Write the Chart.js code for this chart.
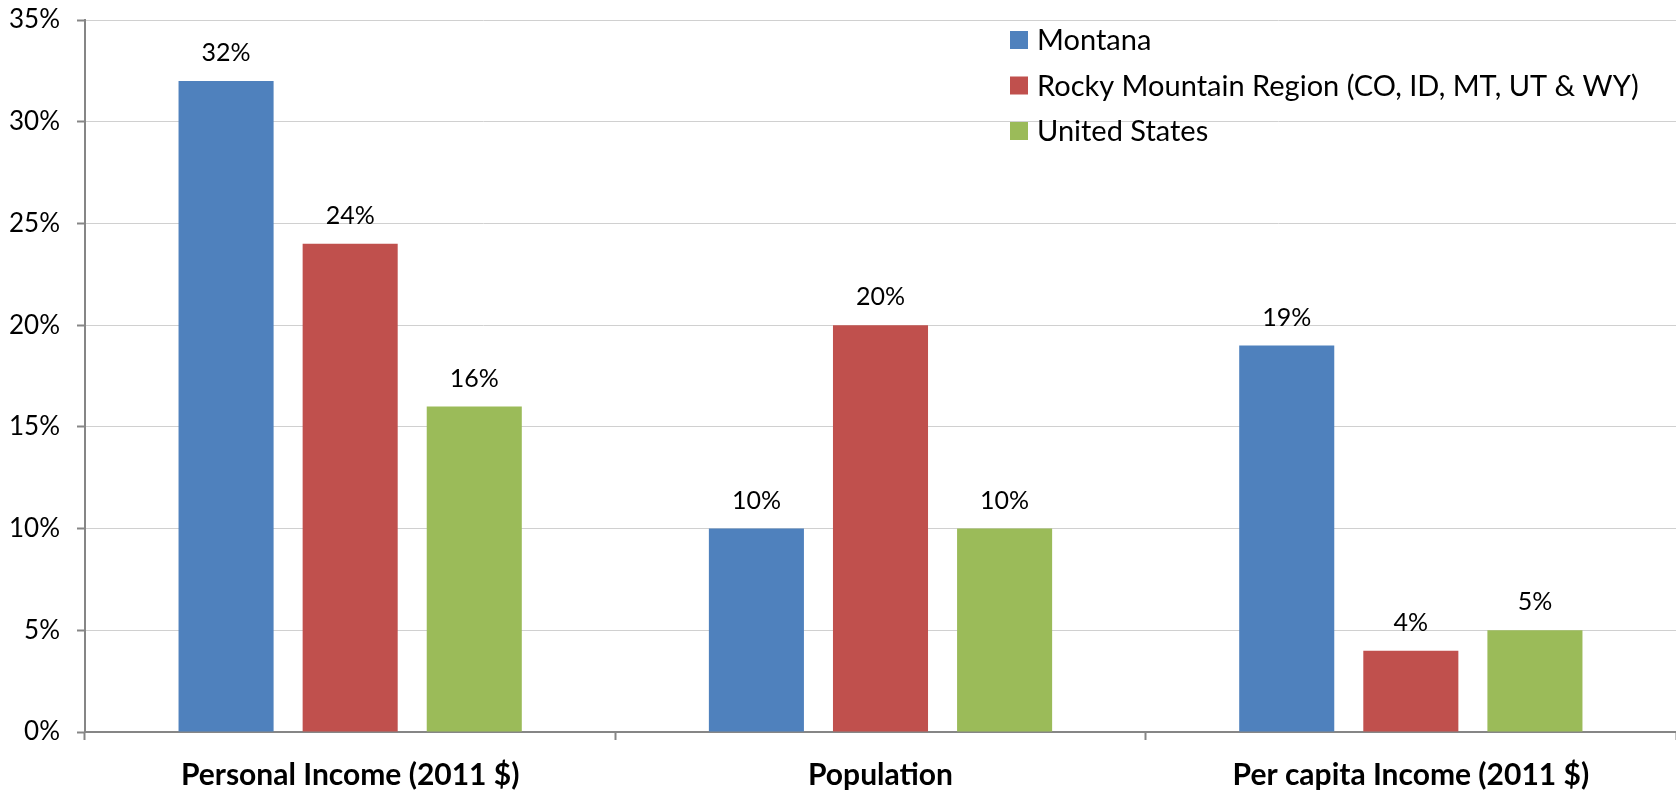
<!DOCTYPE html>
<html>
<head>
<meta charset="utf-8">
<script src="https://cdn.jsdelivr.net/npm/chart.js@4/dist/chart.umd.min.js"></script>
<style>
  html, body { margin: 0; padding: 0; background: #fff; }
  #wrap { width: 1676px; height: 791px; position: relative; }
</style>
</head>
<body>
<div id="wrap"><canvas id="myChart"></canvas></div>
<script>
const categories = ['Personal Income (2011 $)', 'Population', 'Per capita Income (2011 $)'];
const seriesNames = ['Montana', 'Rocky Mountain Region (CO, ID, MT, UT & WY)', 'United States'];
const montana = [32, 10, 19];
const rockyMountain = [24, 20, 4];
const unitedStates = [16, 10, 5];
const yTicks = [0, 5, 10, 15, 20, 25, 30, 35];

const colors = ['#4F81BD', '#C0504D', '#9BBB59'];
const FONT = 'Lato, "Open Sans", sans-serif';

// value labels above each bar
const barLabels = {
  id: 'barLabels',
  afterDatasetsDraw(chart) {
    const ctx = chart.ctx;
    ctx.save();
    ctx.font = '25px ' + FONT;
    ctx.fillStyle = '#000';
    ctx.textAlign = 'center';
    ctx.textBaseline = 'middle';
    chart.data.datasets.forEach((ds, i) => {
      chart.getDatasetMeta(i).data.forEach((bar, j) => {
        ctx.fillText(ds.data[j] + '%', bar.x, bar.y - 28);
      });
    });
    ctx.restore();
  }
};

// legend inside the plot, top right
const insideLegend = {
  id: 'insideLegend',
  afterDraw(chart) {
    const ctx = chart.ctx;
    ctx.save();
    ctx.font = '29px ' + FONT;
    ctx.textBaseline = 'middle';
    chart.data.datasets.forEach((ds, i) => {
      const cy = 40 + i * 45.5;
      ctx.fillStyle = ds.backgroundColor;
      ctx.fillRect(1010, cy - 9, 18, 18);
      ctx.fillStyle = '#000';
      ctx.fillText(ds.label, 1037, cy + 1);
    });
    ctx.restore();
  }
};

const ctx = document.getElementById('myChart');

new Chart(ctx, {
  type: 'bar',
  data: {
    labels: categories,
    datasets: [montana, rockyMountain, unitedStates].map((d, i) => ({
      label: seriesNames[i],
      data: d,
      backgroundColor: colors[i],
      borderWidth: 0,
      categoryPercentage: 0.702,
      barPercentage: 0.766
    }))
  },
  options: {
    responsive: true,
    maintainAspectRatio: false,
    animation: false,
    layout: { padding: { top: 20, right: 0, left: 0, bottom: 0 } },
    plugins: {
      legend: { display: false },
      tooltip: { enabled: false }
    },
    scales: {
      x: {
        offset: true,
        grid: {
          offset: true,
          drawOnChartArea: false,
          tickColor: '#868686',
          tickLength: 8,
          tickWidth: 2
        },
        border: { color: '#868686', width: 2 },
        ticks: {
          color: '#000',
          padding: 17,
          maxRotation: 0,
          font: { family: FONT, size: 30, weight: 'bold' }
        },
        afterFit(scale) {
          scale.height = 59;
          scale.paddingLeft = 0;
          scale.paddingRight = 0;
        }
      },
      y: {
        min: 0,
        max: 35,
        grid: {
          color: '#d0d0d0',
          lineWidth: 1,
          tickColor: '#868686',
          tickLength: 8,
          tickWidth: 2
        },
        border: { color: '#868686', width: 2 },
        afterBuildTicks(scale) {
          scale.ticks = yTicks.map(v => ({ value: v }));
        },
        ticks: {
          color: '#000',
          padding: 17,
          font: { family: FONT, size: 26 },
          callback: v => v + '%'
        },
        afterFit(scale) {
          scale.width = 85;
          scale.paddingTop = 0;
          scale.paddingBottom = 0;
        }
      }
    }
  },
  plugins: [barLabels, insideLegend]
});
</script>
</body>
</html>
